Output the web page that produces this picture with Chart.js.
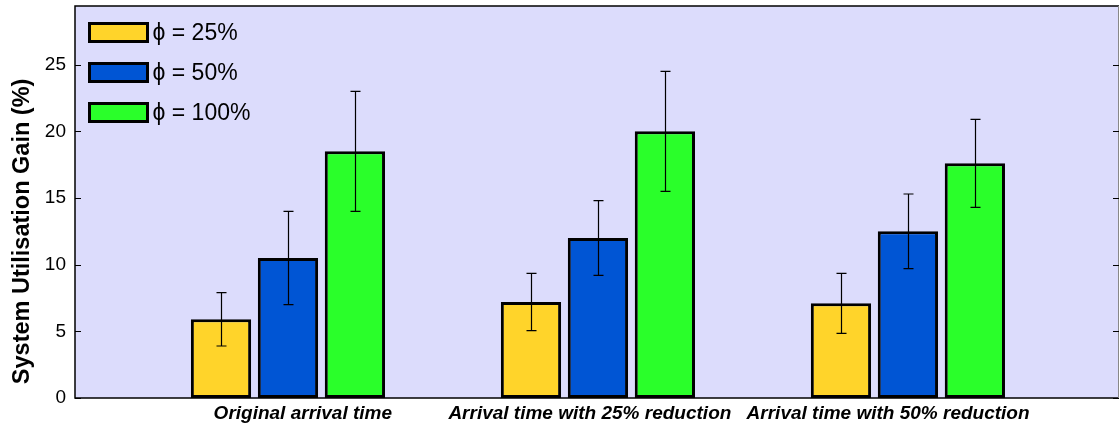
<!DOCTYPE html>
<html>
<head>
<meta charset="utf-8">
<script src="https://cdn.jsdelivr.net/npm/chart.js@4"></script>
<style>
  html, body { margin: 0; padding: 0; background: #fff; }
  #wrap { width: 1120px; height: 426px; }
</style>
</head>
<body>
<div id="wrap"><canvas id="gainChart" width="1120" height="426"></canvas></div>
<script>
// categories, bar group positions and where their tick labels sit
const categories = ['Original arrival time', 'Arrival time with 25% reduction', 'Arrival time with 50% reduction'];
const positions = [1, 2, 3];
const labelAt = [1.048, 1.974, 2.936];

// series: mean gain and error (half height of error bar)
const seriesNames = ['\u03D5 = 25%', '\u03D5 = 50%', '\u03D5 = 100%'];
const gain25 = [5.9, 7.2, 7.1];
const gain50 = [10.5, 12.0, 12.5];
const gain100 = [18.5, 20.0, 17.6];
const err25 = [2.0, 2.15, 2.25];
const err50 = [3.5, 2.8, 2.8];
const err100 = [4.5, 4.5, 3.3];

const yTicks = [0, 5, 10, 15, 20, 25];

const colors = ['#ffd42a', '#0055d4', '#2aff2a'];
const values = [gain25, gain50, gain100];
const errors = [err25, err50, err100];

const FONT = "'Liberation Sans', Arial, sans-serif";
const X_MIN = 0.313, X_MAX = 3.681;

// plot background, frame and inward ticks
const framePlugin = {
    id: 'frame',
    beforeDraw(chart) {
        const a = chart.chartArea, ctx = chart.ctx;
        ctx.save();
        ctx.fillStyle = '#dcdcfc';
        ctx.fillRect(a.left, a.top, a.right - a.left, a.bottom - a.top);
        ctx.restore();
    },
    afterDraw(chart) {
        const a = chart.chartArea, ctx = chart.ctx;
        const y = chart.scales.y;
        ctx.save();
        ctx.strokeStyle = '#000';
        ctx.lineWidth = 1.5;
        ctx.beginPath();
        ctx.moveTo(a.right, a.top); ctx.lineTo(a.left, a.top);
        ctx.lineTo(a.left, a.bottom); ctx.lineTo(a.right, a.bottom);
        ctx.stroke();
        ctx.strokeStyle = '#888';
        ctx.lineWidth = 1;
        ctx.beginPath();
        ctx.moveTo(a.right - 0.5, a.top); ctx.lineTo(a.right - 0.5, a.bottom);
        ctx.stroke();
        ctx.strokeStyle = '#000';
        yTicks.forEach(v => {
            const py = Math.round(y.getPixelForValue(v)) + 0.5;
            ctx.beginPath();
            ctx.moveTo(a.left, py); ctx.lineTo(a.left + 6, py);
            ctx.moveTo(a.right, py); ctx.lineTo(a.right - 6, py);
            ctx.stroke();
        });
        ctx.restore();
    }
};

// error bars drawn from the y scale
const errorBarPlugin = {
    id: 'errorBars',
    afterDatasetsDraw(chart) {
        const ctx = chart.ctx, y = chart.scales.y;
        ctx.save();
        ctx.strokeStyle = '#000';
        ctx.lineWidth = 1.2;
        chart.data.datasets.forEach((ds, i) => {
            chart.getDatasetMeta(i).data.forEach((bar, j) => {
                const v = values[i][j], e = errors[i][j];
                const x = Math.round(bar.x) + 0.5;
                const top = y.getPixelForValue(v + e);
                const bot = y.getPixelForValue(v - e);
                ctx.beginPath();
                ctx.moveTo(x, top); ctx.lineTo(x, bot);
                ctx.moveTo(x - 5, top); ctx.lineTo(x + 5, top);
                ctx.moveTo(x - 5, bot); ctx.lineTo(x + 5, bot);
                ctx.stroke();
            });
        });
        ctx.restore();
    }
};

// legend inside the plot, top-left, like the original figure
const insideLegend = {
    id: 'insideLegend',
    afterDraw(chart) {
        const a = chart.chartArea, ctx = chart.ctx;
        ctx.save();
        ctx.font = '23px ' + FONT;
        ctx.textBaseline = 'middle';
        chart.data.datasets.forEach((ds, i) => {
            const bx = a.left + 14.5, by = a.top + 17.5 + i * 40;
            ctx.fillStyle = ds.backgroundColor;
            ctx.fillRect(bx, by, 58, 18);
            ctx.lineWidth = 3;
            ctx.strokeStyle = '#000';
            ctx.strokeRect(bx, by, 58, 18);
            ctx.fillStyle = '#000';
            ctx.fillText(ds.label, bx + 63, by + 10);
        });
        ctx.restore();
    }
};

const datasets = seriesNames.map((name, i) => ({
    label: name,
    data: positions.map((p, j) => ({ x: p, y: values[i][j] })),
    backgroundColor: colors[i],
    borderColor: '#000',
    borderWidth: 3,
    borderSkipped: false,
    categoryPercentage: 0.648,
    barPercentage: 0.9
}));

new Chart(document.getElementById('gainChart').getContext('2d'), {
    type: 'bar',
    data: { datasets: datasets },
    options: {
        responsive: false,
        animation: false,
        layout: { padding: { top: 6, right: 1, left: 0, bottom: 0 } },
        plugins: {
            legend: { display: false },
            tooltip: { enabled: false }
        },
        scales: {
            // bar axis: ticks at the group centres, no labels
            x: {
                type: 'linear',
                min: X_MIN,
                max: X_MAX,
                offset: false,
                grid: { display: false, drawTicks: false },
                border: { display: false },
                afterBuildTicks: (axis) => { axis.ticks = positions.map(p => ({ value: p })); },
                afterFit: (axis) => {
                    axis.height = 0;
                    axis.paddingLeft = 0;
                    axis.paddingRight = 0;
                },
                ticks: { display: false }
            },
            // label axis: same range, carries the category names
            xLabels: {
                type: 'linear',
                axis: 'x',
                position: 'bottom',
                min: X_MIN,
                max: X_MAX,
                offset: false,
                grid: { display: false, drawTicks: false },
                border: { display: false },
                afterBuildTicks: (axis) => { axis.ticks = labelAt.map(p => ({ value: p })); },
                afterFit: (axis) => {
                    axis.height = 28;
                    axis.paddingLeft = 0;
                    axis.paddingRight = 0;
                },
                ticks: {
                    autoSkip: false,
                    maxRotation: 0,
                    padding: 4,
                    color: '#000',
                    font: { family: FONT, size: 19, weight: 'bold', style: 'italic' },
                    callback: (v, i) => categories[i]
                }
            },
            y: {
                min: 0,
                max: 29.4,
                grid: { display: false, drawTicks: false },
                border: { display: false },
                afterBuildTicks: (axis) => { axis.ticks = yTicks.map(v => ({ value: v })); },
                afterFit: (axis) => {
                    axis.width = 75;
                    axis.paddingTop = 0;
                    axis.paddingBottom = 0;
                },
                ticks: {
                    padding: 9,
                    color: '#000',
                    font: { family: FONT, size: 19 }
                },
                title: {
                    display: true,
                    text: 'System Utilisation Gain (%)' + '\u00A0'.repeat(9),
                    color: '#000',
                    padding: { top: 8, bottom: 0 },
                    font: { family: FONT, size: 23.5, weight: 'bold' }
                }
            }
        }
    },
    plugins: [framePlugin, errorBarPlugin, insideLegend]
});
</script>
</body>
</html>
